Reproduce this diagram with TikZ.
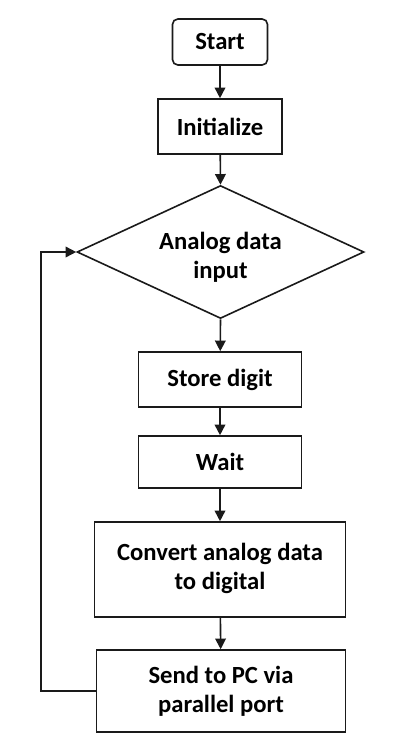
\documentclass[tikz,border=0pt]{standalone}
\usepackage{fontspec}
\setmainfont{Carlito}
\usetikzlibrary{shapes.geometric,arrows.meta}

\begin{document}
\begin{tikzpicture}[
    x=.75pt,y=-.75pt,
    font=\rmfamily\bfseries\fontsize{18.5}{21.5}\selectfont,
    boxline/.style={draw=flowink,line width=1.2pt},
    startbox/.style={boxline,rounded corners=4pt,align=center,inner sep=0pt,
      minimum width=71.25pt,minimum height=34.5pt},
    procbox/.style={boxline,align=center,inner sep=0pt},
    decbox/.style={boxline,diamond,aspect=2.16,align=center,inner sep=0pt,
      minimum width=215.25pt,minimum height=99.75pt},
    flowarrow/.style={draw=flowink,line width=1.2pt,-{Triangle[length=8pt,width=8pt]}}
  ]
    \definecolor{flowink}{HTML}{1A1A1A}
    \path[use as bounding box] (0,0) rectangle (404,753);
    % boxes, top to bottom
    \node[startbox] (start) at (220,42) {Start};
    \node[procbox,minimum width=93pt,minimum height=41.25pt] (init) at (220,126.5) {Initialize};
    \node[decbox] (dec) at (220.5,252) {};
    \node[align=center] (dectext) at (220.5,257) {Analog data\\input};
    \node[procbox,minimum width=122.25pt,minimum height=41.25pt] (store) at (220,379.5) {Store digit};
    \node[procbox,minimum width=122.25pt,minimum height=39pt] (wait) at (220,462) {Wait};
    \node[procbox,minimum width=188.25pt,minimum height=71.25pt] (conv) at (220,569.5)
      {\raisebox{14pt}{\begin{tabular}{@{}c@{}}Convert analog data\\to digital\end{tabular}}};
    \node[procbox,minimum width=186.75pt,minimum height=61.5pt] (send) at (221,691)
      {Send to PC via\\parallel port};
    \coordinate (loopx) at (41,0);
    % connectors
    \draw[flowarrow] (start) -- (init);
    \draw[flowarrow] (init) -- (dec.north);
    \draw[flowarrow] (dec.south) -- (store);
    \draw[flowarrow] (store) -- (wait);
    \draw[flowarrow] (wait) -- (conv);
    \draw[flowarrow] (conv) -- (send);
    \draw[flowarrow] (send.west) -- (send.west -| loopx) |- (dec.west);
\end{tikzpicture}
\end{document}
